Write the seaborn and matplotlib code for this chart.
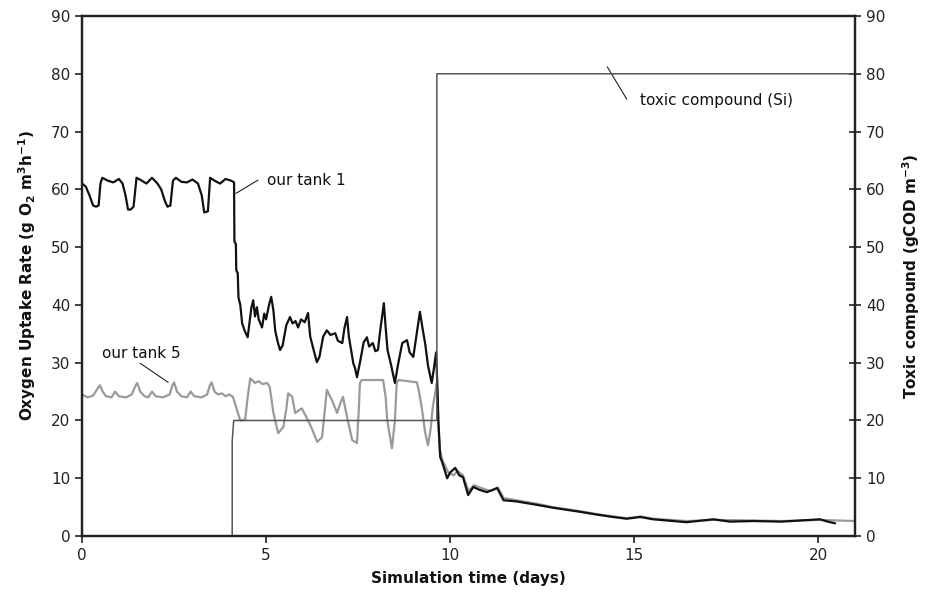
import matplotlib
matplotlib.use("Agg")
import matplotlib.pyplot as plt
import seaborn as sns
import pandas as pd

# tank 1 (black) : time (days), OUR (g O2 m-3 h-1)
t1_time = [0, 0.1, 0.2, 0.3, 0.38, 0.45, 0.5, 0.55, 0.7, 0.85, 1.0, 1.1, 1.18, 1.25, 1.32, 1.4,
           1.48, 1.6, 1.75, 1.9, 2.05, 2.15, 2.25, 2.32, 2.4, 2.47, 2.55, 2.7, 2.85, 3.0, 3.15,
           3.25, 3.32, 3.42, 3.48, 3.6, 3.75, 3.9, 4.05, 4.13, 4.14, 4.18, 4.19, 4.23, 4.25, 4.3,
           4.35, 4.42, 4.5, 4.55, 4.6, 4.65, 4.7, 4.75, 4.8, 4.89, 4.95, 5.0, 5.08, 5.14, 5.2,
           5.25, 5.32, 5.38, 5.45, 5.55, 5.65, 5.72, 5.8, 5.87, 5.95, 6.05, 6.14, 6.2, 6.28, 6.38,
           6.45, 6.55, 6.65, 6.75, 6.88, 6.95, 7.07, 7.13, 7.2, 7.25, 7.37, 7.42, 7.47, 7.55, 7.65,
           7.74, 7.8, 7.9, 7.97, 8.04, 8.1, 8.2, 8.25, 8.3, 8.4, 8.5, 8.58, 8.7, 8.83, 8.9, 9.0,
           9.08, 9.18, 9.25, 9.32, 9.4, 9.5, 9.56, 9.62, 9.66, 9.68, 9.73, 9.8, 9.92, 10.0, 10.14,
           10.25, 10.35, 10.49, 10.63, 10.8, 11.0, 11.28, 11.45, 11.8, 12.36, 12.8, 13.53, 14.0,
           14.43, 14.8, 15.16, 15.52, 16.43, 17.15, 17.6, 18.24, 19.0, 20.05, 20.2, 20.46]
t1_our = [61, 60.5, 59, 57.2, 57, 57.2, 61, 62, 61.5, 61.2, 61.8, 61, 59, 56.5, 56.5, 57,
          62, 61.6, 61, 62, 61, 60, 58, 57, 57.2, 61.5, 62, 61.3, 61.2, 61.7, 61,
          59, 56, 56.2, 62, 61.5, 61, 61.8, 61.5, 61.2, 51, 50.5, 46, 45.5, 41.3, 40,
          36.8, 35.5, 34.4, 37, 39.5, 40.8, 38, 39.6, 37.5, 36.1, 38.5, 37.5, 40, 41.4, 39,
          35.5, 33.5, 32.2, 33, 36.5, 37.9, 36.8, 37.2, 36.1, 37.5, 37, 38.6, 34.5, 32.5, 30.1,
          31, 34.5, 35.6, 34.8, 35.1, 33.8, 33.4, 36, 37.9, 34.5, 29.9, 29, 27.5, 30, 33.5,
          34.4, 32.8, 33.4, 32, 32.2, 35.5, 40.3, 36, 32.2, 29.5, 26.5, 29.5, 33.4, 33.9, 31.8, 31,
          34.5, 38.8, 36, 33.4, 29.5, 26.5, 29, 31.8, 25, 20, 13.7, 12.5, 10, 11, 11.8,
          10.5, 10.2, 7.1, 8.5, 8.0, 7.6, 8.3, 6.2, 6.0, 5.4, 4.9, 4.2, 3.7,
          3.3, 3.0, 3.3, 2.9, 2.4, 2.9, 2.5, 2.6, 2.5, 2.9, 2.6, 2.2]

# tank 5 (grey)
t5_time = [0, 0.15, 0.3, 0.42, 0.49, 0.56, 0.65, 0.8, 0.9, 1.0, 1.2, 1.35, 1.45, 1.5, 1.58, 1.7,
           1.8, 1.9, 2.0, 2.2, 2.38, 2.45, 2.5, 2.58, 2.7, 2.85, 2.95, 3.05, 3.25, 3.4, 3.47, 3.52,
           3.6, 3.7, 3.8, 3.9, 4.0, 4.1, 4.2, 4.3, 4.43, 4.5, 4.57, 4.7, 4.8, 4.9, 5.03, 5.1, 5.2,
           5.33, 5.47, 5.55, 5.6, 5.71, 5.79, 5.97, 6.11, 6.25, 6.39, 6.52, 6.6, 6.65, 6.79, 6.93,
           7.02, 7.09, 7.2, 7.34, 7.47, 7.52, 7.55, 7.6, 8.18, 8.25, 8.29, 8.42, 8.5, 8.55, 8.6,
           9.1, 9.17, 9.24, 9.32, 9.4, 9.47, 9.53, 9.6, 9.64, 9.68, 9.72, 9.8, 9.95, 10.1, 10.2,
           10.35, 10.5, 10.65, 10.9, 11.1, 11.3, 11.45, 11.8, 12.36, 12.8, 13.53, 14.0, 14.43,
           14.8, 15.2, 15.52, 16.43, 17.15, 18.24, 19.0, 20.05, 21.0]
t5_our = [24.5, 24.0, 24.3, 25.5, 26.1, 25, 24.2, 24, 25, 24.2, 24, 24.5, 26, 26.5, 25, 24.2,
          24, 25, 24.2, 24, 24.5, 26, 26.6, 25, 24.2, 24, 25, 24.2, 24, 24.5, 26, 26.6,
          25, 24.5, 24.7, 24.2, 24.5, 24.1, 22, 20, 20.1, 24, 27.3, 26.5, 26.8, 26.3, 26.5, 25.8, 21.3,
          17.8, 18.9, 22, 24.7, 24.1, 21.3, 22.1, 20.4, 18.5, 16.3, 17.1, 22, 25.3, 23.5, 21.3,
          23, 24.1, 20.6, 16.6, 16.1, 22, 26.5, 27, 27, 24, 20.1, 15.2, 20, 26.5, 27,
          26.6, 24.5, 21.8, 18, 15.7, 18.5, 22.3, 25, 26.5, 20, 15, 13, 11, 10.5, 11.3,
          10.5, 7.8, 8.8, 8.2, 7.8, 8.4, 6.6, 6.2, 5.6, 5.0, 4.3, 3.8, 3.4,
          3.1, 3.4, 3.0, 2.6, 2.8, 2.7, 2.6, 2.8, 2.6]

# toxic compound Si (gCOD m-3)
si_time = [0, 4.08, 4.08, 4.12, 9.64, 9.64, 21]
si_conc = [0, 0, 16.5, 20, 20, 80, 80]

sns.set_style("ticks")
plt.rcParams["font.family"] = ["DejaVu Sans"]
plt.rcParams["text.color"] = "#111111"
plt.rcParams["axes.labelcolor"] = "#111111"

fig = plt.figure(figsize=(9.27, 6.03), dpi=100)
ax = fig.add_axes([0.0885, 0.111, 0.8338, 0.8625])

df1 = pd.DataFrame({"t": t1_time, "v": t1_our})
df5 = pd.DataFrame({"t": t5_time, "v": t5_our})
dfs = pd.DataFrame({"t": si_time, "v": si_conc})

sns.lineplot(data=df5, x="t", y="v", ax=ax, color="#9a9a9a", lw=1.6, sort=False, estimator=None)
sns.lineplot(data=df1, x="t", y="v", ax=ax, color="#111111", lw=1.6, sort=False, estimator=None)

ax2 = ax.twinx()
sns.lineplot(data=dfs, x="t", y="v", ax=ax2, color="#555555", lw=1.1, sort=False, estimator=None)

for a in (ax, ax2):
    a.set_xlim(0, 21)
    a.set_ylim(0, 90)
    a.set_yticks(range(0, 91, 10))
    for s in a.spines.values():
        s.set_visible(True)
        s.set_color("#222222")
        s.set_linewidth(1.6)

ax.set_xticks([0, 5, 10, 15, 20])
ax.tick_params(axis="both", labelsize=11, length=5, width=1.2, color="#222222", labelcolor="#222222")
ax2.tick_params(axis="y", labelsize=11, length=9, width=1.2, direction="inout",
                color="#222222", labelcolor="#222222")

ax.set_xlabel("Simulation time (days)", fontsize=11, fontweight="bold", labelpad=6)
ax.set_ylabel("Oxygen Uptake Rate (g O$_\\mathbf{2}$ m$^\\mathbf{3}$h$^\\mathbf{-1}$)",
              fontsize=11, fontweight="bold", labelpad=9)
ax2.set_ylabel("Toxic compound (gCOD m$^\\mathbf{-3}$)", fontsize=11, fontweight="bold", labelpad=11)

# annotations with leader lines
ax.plot([4.18, 4.78], [59.3, 61.6], color="#222222", lw=0.8)
ax.text(5.03, 61.6, "our tank 1", fontsize=11, va="center", ha="left")
ax.plot([1.58, 2.34], [29.9, 26.6], color="#222222", lw=0.8)
ax.text(0.54, 31.6, "our tank 5", fontsize=11, va="center", ha="left")
ax.plot([14.27, 14.8], [81.2, 75.6], color="#222222", lw=0.8)
ax.text(15.16, 75.4, "toxic compound (Si)", fontsize=11, va="center", ha="left")

fig.savefig("out.png", dpi=100)
